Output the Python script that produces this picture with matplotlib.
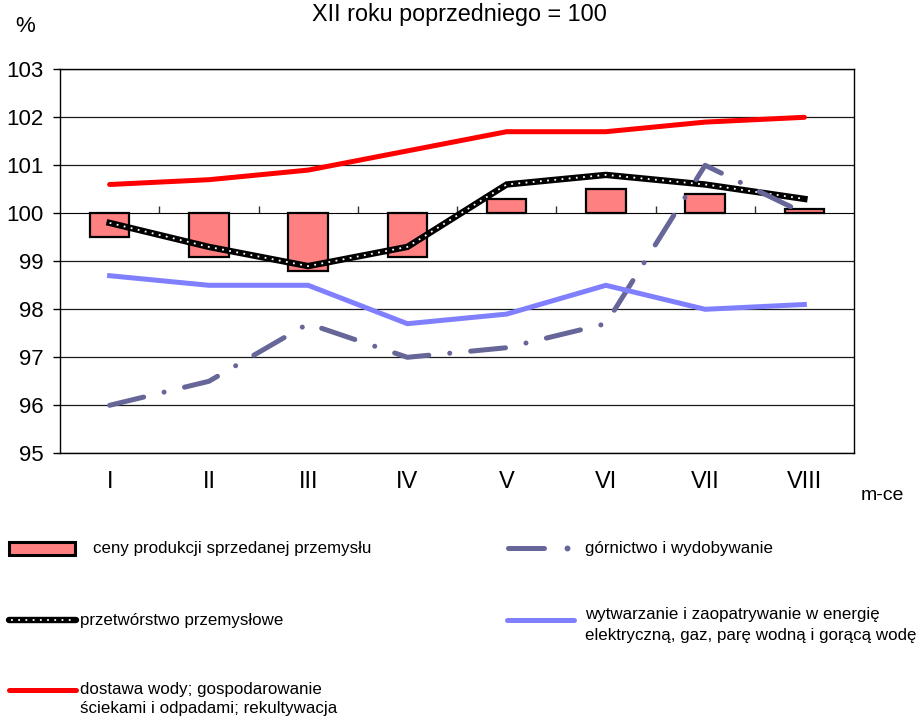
import matplotlib
matplotlib.use("Agg")
import matplotlib.pyplot as plt
from matplotlib.patches import Rectangle
import numpy as np

plt.rcParams['font.family'] = ['Liberation Sans', 'DejaVu Sans']

months = ["I", "II", "III", "IV", "V", "VI", "VII", "VIII"]
ceny = [99.5, 99.1, 98.8, 99.1, 100.3, 100.5, 100.4, 100.1]
przetworstwo = [99.8, 99.3, 98.9, 99.3, 100.6, 100.8, 100.6, 100.3]
gornictwo = [96.0, 96.5, 97.7, 97.0, 97.2, 97.7, 101.0, 100.0]
energia = [98.7, 98.5, 98.5, 97.7, 97.9, 98.5, 98.0, 98.1]
woda = [100.6, 100.7, 100.9, 101.3, 101.7, 101.7, 101.9, 102.0]
yticks = [95, 96, 97, 98, 99, 100, 101, 102, 103]
base = 100

labels = ["ceny produkcji sprzedanej przemysłu",
          "górnictwo i wydobywanie",
          "przetwórstwo przemysłowe",
          "wytwarzanie i zaopatrywanie w energię\nelektryczną, gaz, parę wodną i gorącą wodę",
          "dostawa wody; gospodarowanie\nściekami i odpadami; rekultywacja"]

W, H = 921, 718
fig = plt.figure(figsize=(W / 100, H / 100), dpi=100)
L, R, T, B = 60, 854, 69.3, 453.3
ax = fig.add_axes([L / W, 1 - B / H, (R - L) / W, (B - T) / H])

x = np.arange(len(months))
col_bar = "#FF8080"
col_gorn = "#666699"
col_en = "#8080FF"
col_woda = "#FF0000"

# gridlines
for yv in yticks:
    if yv != base:
        ax.axhline(yv, color="#1a1a1a", lw=0.9, zorder=1)

heights = [v - base for v in ceny]
ax.bar(x, heights, bottom=base, width=0.4, color=col_bar, edgecolor="black",
       linewidth=1.6, zorder=3)

# przetworstwo: thick black with white dots
ax.plot(x, przetworstwo, color="black", lw=4.6, solid_joinstyle="miter", zorder=4)
ax.plot(x, przetworstwo, color="white", lw=1.3, dashes=(1, 3), zorder=5)

ax.plot(x, gornictwo, color=col_gorn, lw=3.6, dashes=[7, 4.2, 0.01, 4.2],
        dash_capstyle="round", zorder=6)
ax.plot(x, energia, color=col_en, lw=3.6, solid_joinstyle="miter", zorder=6)
ax.plot(x, woda, color=col_woda, lw=3.6, solid_joinstyle="round",
        solid_capstyle="round", zorder=7)

ax.set_xlim(-0.5, len(months) - 0.5)
ax.set_ylim(yticks[0], yticks[-1])
ax.set_yticks(yticks)
ax.set_yticklabels([str(v) for v in yticks], fontsize=16)
ax.tick_params(axis="y", direction="out", length=5, width=1, pad=7)
ax.set_xticks(x)
ax.set_xticklabels(months, fontsize=17)
ax.tick_params(axis="x", length=0, pad=13)
for s in ax.spines.values():
    s.set_color("black")
    s.set_linewidth(1.0)

# category axis crossing at 100
frac = (base - yticks[0]) / (yticks[-1] - yticks[0])
sec = ax.secondary_xaxis(frac)
sec.set_xticks(np.arange(0.5, len(months) - 0.5, 1.0))
sec.set_xticklabels([])
sec.tick_params(direction="out", length=5, width=1, color="#333333")
sec.spines["bottom"].set_color("#808080")
sec.spines["bottom"].set_linewidth(1.5)
sec.spines["bottom"].set_zorder(2)

fig.text(459 / W, 1 - 15 / H, "XII roku poprzedniego = 100", ha="center",
         va="center", fontsize=16.8)
fig.text(25 / W, 1 - 26 / H, "%", ha="center", va="center", fontsize=16)
fig.text(882 / W, 1 - 495 / H, "m-ce", ha="center", va="center", fontsize=14)

# legend (pixel coordinate overlay)
lax = fig.add_axes([0, 0, 1, 1], zorder=10)
lax.set_xlim(0, W)
lax.set_ylim(H, 0)
lax.axis("off")
lax.patch.set_alpha(0)
fs = 12.2
lax.add_patch(Rectangle((9, 542), 66, 13, facecolor=col_bar, edgecolor="black", lw=2.2))
lax.text(93, 548, labels[0], fontsize=fs, va="center", ha="left")

lax.plot([508, 544], [548, 548], color=col_gorn, lw=3.6, solid_capstyle="round")
lax.plot([567], [548], marker="o", ms=3.2, color=col_gorn, mec=col_gorn)
lax.text(585, 548, labels[1], fontsize=fs, va="center", ha="left")

lax.plot([9, 76], [620, 620], color="black", lw=4.6, solid_capstyle="round")
lax.plot([11, 75], [620, 620], color="white", lw=1.3, dashes=(1, 3))
lax.text(80, 620, labels[2], fontsize=fs, va="center", ha="left")

lax.plot([507, 574], [620, 620], color=col_en, lw=3.6, solid_capstyle="round")
lax.text(585, 625, labels[3], fontsize=fs, va="center", ha="left", linespacing=1.5)

lax.plot([9, 76], [690, 690], color=col_woda, lw=3.6, solid_capstyle="round")
lax.text(80, 699, labels[4], fontsize=fs, va="center", ha="left", linespacing=1.4)

fig.savefig("out.png", dpi=100)
